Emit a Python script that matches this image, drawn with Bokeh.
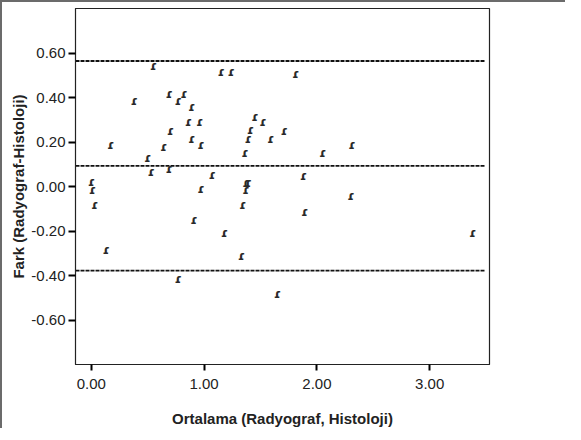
from bokeh.plotting import figure
from bokeh.models import Range1d, FixedTicker, PrintfTickFormatter, ColumnDataSource
from bokeh.core.properties import value
from bokeh.embed import file_html
from bokeh.resources import INLINE

# Data (Bland-Altman plot)
ortalama = [0.00, 0.01, 0.03, 0.17, 0.13, 0.38, 0.55, 0.50, 0.53, 0.69,
            0.77, 0.82, 0.89, 0.86, 0.96, 0.70, 0.64, 0.89, 0.97, 0.69,
            1.07, 0.97, 0.91, 0.77, 1.15, 1.24, 1.81, 1.45, 1.52, 1.41,
            1.39, 1.59, 1.71, 1.36, 2.05, 2.31, 1.37, 1.39, 1.37, 1.34,
            1.18, 1.33, 1.65, 1.88, 2.30, 1.89, 3.38]
fark = [0.020, -0.017, -0.085, 0.185, -0.285, 0.386, 0.543, 0.127, 0.063, 0.414,
        0.386, 0.414, 0.357, 0.290, 0.290, 0.250, 0.177, 0.215, 0.185, 0.077,
        0.050, -0.011, -0.151, -0.415, 0.516, 0.516, 0.506, 0.312, 0.290, 0.252,
        0.215, 0.215, 0.250, 0.151, 0.151, 0.185, 0.015, 0.017, -0.017, -0.085,
        -0.210, -0.312, -0.482, 0.046, -0.042, -0.115, -0.210]
limits = [0.564, 0.093, -0.378]   # upper LoA, mean difference, lower LoA
x_ticks = [0, 1, 2, 3]
y_ticks = [-0.6, -0.4, -0.2, 0.0, 0.2, 0.4, 0.6]
x_span = [-0.14, 3.49]

FONT = "Liberation Sans"

p = figure(width=565, height=428, output_backend="svg", toolbar_location=None,
           x_range=Range1d(-0.14, 3.53), y_range=Range1d(-0.8, 0.8),
           min_border_left=73, min_border_right=78, min_border_top=6, min_border_bottom=66,
           styles={"border-top": "2px solid #6b6b6b", "border-left": "2px solid #6b6b6b"})
p.grid.visible = False
p.outline_line_color = "#222222"
p.outline_line_width = 1.2
p.background_fill_color = "white"
p.border_fill_color = "white"

for loc in limits:
    p.line(x=x_span, y=[loc, loc], line_color="#111111", line_width=1.8, line_dash="4 1")

src = ColumnDataSource(dict(x=ortalama, y=fark, t=["ɾ"] * len(ortalama)))
p.text(x="x", y="y", text="t", source=src, text_align="center", text_baseline="middle",
       text_font=value("DejaVu Sans"), text_font_size="12px", text_font_style="bold",
       text_color="#2a2a2a")

p.xaxis.ticker = FixedTicker(ticks=x_ticks)
p.yaxis.ticker = FixedTicker(ticks=y_ticks)
p.xaxis.formatter = PrintfTickFormatter(format="%.2f")
p.yaxis.formatter = PrintfTickFormatter(format="%.2f")
for ax in (p.xaxis[0], p.yaxis[0]):
    ax.major_tick_line_width = 2
    ax.major_tick_line_color = "black"
    ax.major_tick_in = 0
    ax.minor_tick_line_color = None
    ax.axis_line_color = "#222222"
    ax.major_label_text_font = FONT
    ax.major_label_text_font_size = "15px"
    ax.major_label_text_color = "#222222"
    ax.axis_label_text_font = FONT
    ax.axis_label_text_font_size = "15px"
    ax.axis_label_text_font_style = "bold"
    ax.axis_label_text_color = "#222222"
p.xaxis.major_tick_out = 6
p.yaxis.major_tick_out = 7
p.xaxis.major_label_standoff = 8
p.yaxis.major_label_standoff = 3
p.xaxis.axis_label = "Ortalama (Radyograf, Histoloji)"
p.yaxis.axis_label = "Fark (Radyograf-Histoloji)"
p.xaxis.axis_label_standoff = 18
p.yaxis.axis_label_standoff = 1

open("out.html", "w").write(file_html(p, INLINE))
